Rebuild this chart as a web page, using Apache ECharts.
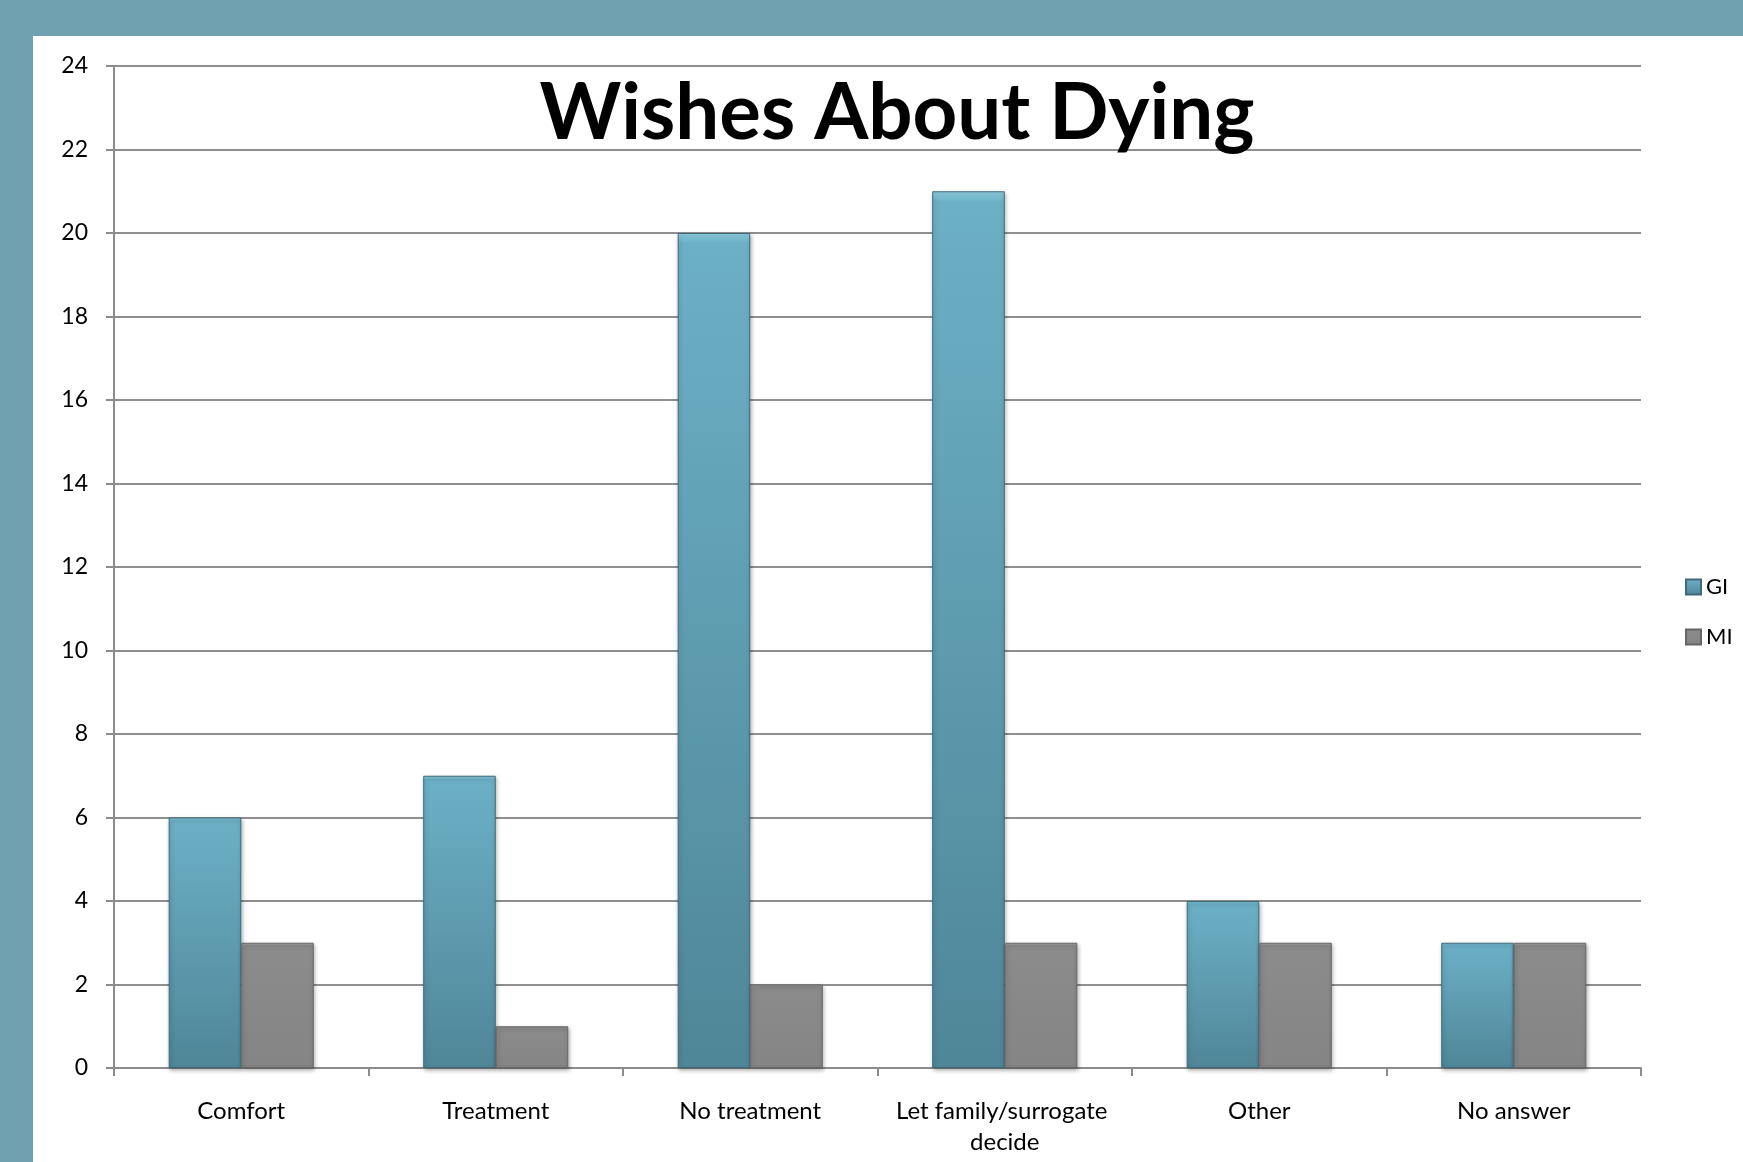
<!DOCTYPE html>
<html>
<head>
<meta charset="utf-8">
<script src="https://cdn.jsdelivr.net/npm/echarts@6/dist/echarts.min.js"></script>
<style>
html,body{margin:0;padding:0;background:#fff;}
#chart{width:1743px;height:1162px;}
</style>
</head>
<body>
<div id="chart"></div>
<script>
const titleText = 'Wishes About Dying';
const categories = ['Comfort', 'Treatment', 'No treatment', 'Let family/surrogate decide', 'Other', 'No answer'];
const seriesNames = ['GI', 'MI'];
const giValues = [6, 7, 20, 21, 4, 3];
const miValues = [3, 1, 2, 3, 3, 3];
const yTicks = { min: 0, max: 24, interval: 2 };

const chart = echarts.init(document.getElementById('chart'), null, { renderer: 'canvas' });
const FONT = 'Lato, "Open Sans", sans-serif';
const teal = '#6fa1b1';

chart.setOption({
  animation: false,
  backgroundColor: '#ffffff',
  graphic: [
    { type: 'rect', z: -10, shape: { x: 0, y: 0, width: 1743, height: 36 }, style: { fill: teal } },
    { type: 'rect', z: -10, shape: { x: 0, y: 0, width: 33, height: 1162 }, style: { fill: teal } },
    { type: 'text', z: 100, x: 897, y: 114,
      style: { text: titleText, font: 'bold 78px ' + FONT, fill: '#000', align: 'center', verticalAlign: 'middle' } }
  ],
  legend: {
    orient: 'vertical',
    left: 1680,
    top: 571,
    itemWidth: 15,
    itemHeight: 15,
    itemGap: 28,
    icon: 'rect',
    textStyle: { fontFamily: FONT, fontSize: 22, color: '#000', padding: [0, 0, 0, 0] },
    data: seriesNames
  },
  grid: { left: 114, right: 102, top: 66, bottom: 94, containLabel: false },
  xAxis: {
    type: 'category',
    data: categories,
    axisLine: { lineStyle: { color: '#8c8c8c', width: 2 } },
    axisTick: { show: true, length: 8, alignWithLabel: false, lineStyle: { color: '#8c8c8c', width: 2 } },
    axisLabel: { fontFamily: FONT, fontSize: 24, color: '#000', margin: 28, lineHeight: 31, width: 250, overflow: 'break', interval: 0 }
  },
  yAxis: {
    type: 'value',
    min: yTicks.min, max: yTicks.max, interval: yTicks.interval,
    axisLine: { show: true, lineStyle: { color: '#8c8c8c', width: 2 } },
    axisTick: { show: true, length: 8, lineStyle: { color: '#8c8c8c', width: 2 } },
    axisLabel: { fontFamily: FONT, fontSize: 23, color: '#000', margin: 26 },
    splitLine: { show: true, lineStyle: { color: '#8f8f8f', width: 2 } }
  },
  series: [
    {
      name: seriesNames[0], type: 'bar', data: giValues,
      barGap: '0%', barCategoryGap: '43%',
      itemStyle: {
        color: new echarts.graphic.LinearGradient(0, 0, 0, 1, [
          { offset: 0, color: '#8fd0e2' },
          { offset: 0.012, color: '#6cb0c6' },
          { offset: 1, color: '#4f8698' }
        ]),
        borderColor: '#3e6b7b', borderWidth: 1,
        shadowBlur: 4, shadowColor: 'rgba(0,0,0,0.3)', shadowOffsetX: 1, shadowOffsetY: 2
      }
    },
    {
      name: seriesNames[1], type: 'bar', data: miValues,
      barGap: '0%', barCategoryGap: '43%',
      itemStyle: {
        color: new echarts.graphic.LinearGradient(0, 0, 0, 1, [
          { offset: 0, color: '#b5b5b5' },
          { offset: 0.02, color: '#8b8b8b' },
          { offset: 1, color: '#858585' }
        ]),
        borderColor: '#666666', borderWidth: 1,
        shadowBlur: 4, shadowColor: 'rgba(0,0,0,0.3)', shadowOffsetX: 1, shadowOffsetY: 2
      }
    }
  ]
});
</script>
</body>
</html>
